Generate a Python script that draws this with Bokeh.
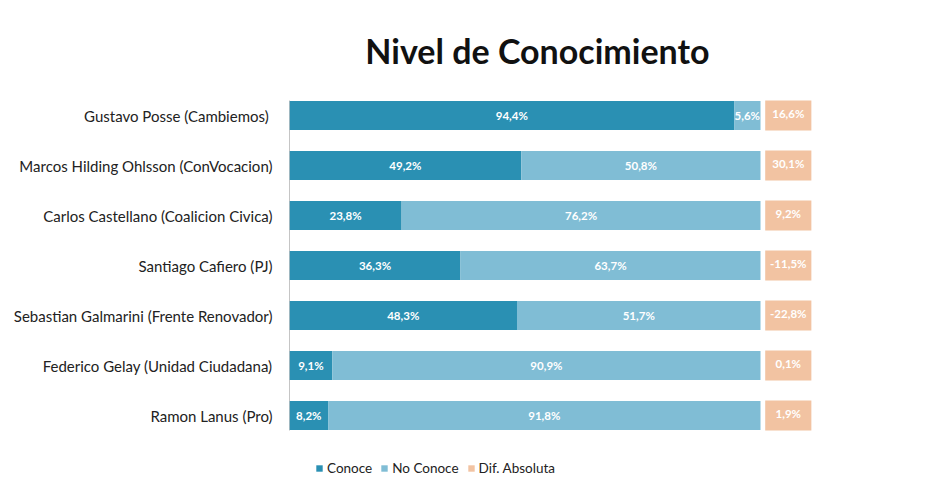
from bokeh.plotting import figure
from bokeh.models import ColumnDataSource, Range1d, Legend, LegendItem, FixedTicker
from bokeh.core.properties import value
from bokeh.embed import file_html
from bokeh.resources import INLINE

names = ["Gustavo Posse  (Cambiemos)", "Marcos Hilding Ohlsson (ConVocacion)",
         "Carlos Castellano (Coalicion Civica)", "Santiago Cafiero (PJ)",
         "Sebastian Galmarini (Frente Renovador)", "Federico Gelay (Unidad Ciudadana)",
         "Ramon Lanus (Pro)"]
conoce = [94.4, 49.2, 23.8, 36.3, 48.3, 9.1, 8.2]
no_conoce = [5.6, 50.8, 76.2, 63.7, 51.7, 90.9, 91.8]
dif_absoluta = [16.6, 30.1, 9.2, -11.5, -22.8, 0.1, 1.9]
series_names = ["Conoce", "No Conoce", "Dif. Absoluta"]
title_text = "Nivel de Conocimiento"

C_CON = "#2a90b3"
C_NO = "#80bdd5"
C_DIF = "#f2c3a2"
FONT = "Lato"

def fmt(v):
    return f"{v:.1f}".replace(".", ",") + "%"

DIF_START, DIF_END = 101.0, 110.8
idx = list(range(len(names)))

src = ColumnDataSource(dict(
    y=idx,
    con=conoce,
    total=[a + b for a, b in zip(conoce, no_conoce)],
    con_mid=[a / 2 for a in conoce],
    no_mid=[a + b / 2 for a, b in zip(conoce, no_conoce)],
    con_lbl=[fmt(v) for v in conoce],
    no_lbl=[fmt(v) for v in no_conoce],
    dif_lbl=[fmt(v) for v in dif_absoluta],
    dif_l=[DIF_START] * len(names),
    dif_r=[DIF_END] * len(names),
    dif_mid=[(DIF_START + DIF_END) / 2] * len(names),
))

p = figure(width=946, height=503, output_backend="svg", toolbar_location=None,
           x_range=Range1d(0, 139.49), y_range=Range1d(7.76, -2.3),
           min_border_left=289, min_border_right=0, min_border_top=0, min_border_bottom=0)
p.background_fill_color = "white"
p.border_fill_color = "white"
p.outline_line_color = None
p.grid.visible = False
p.xaxis.visible = False

ya = p.yaxis[0]
ya.ticker = FixedTicker(ticks=idx)
ya.major_label_overrides = {i: n for i, n in zip(idx, names)}
ya.axis_line_color = None
ya.major_tick_line_color = None
ya.minor_tick_line_color = None
ya.major_label_text_font = FONT
ya.major_label_text_font_size = "15px"
ya.major_label_text_color = "#222222"
ya.major_label_standoff = 11

p.segment(x0=0, y0=-0.3, x1=0, y1=len(names) - 0.7, line_color="#8c8c8c", line_width=1)

h = 0.58
r1 = p.hbar(y="y", left=0, right="con", height=h, source=src, fill_color=C_CON, line_color=None)
r2 = p.hbar(y="y", left="con", right="total", height=h, source=src, fill_color=C_NO, line_color=None)
r3 = p.hbar(y="y", left="dif_l", right="dif_r", height=0.6, source=src, fill_color=C_DIF, line_color=None)

common = dict(text_font=value(FONT), text_font_size="11.5px", text_font_style="bold",
              text_color="white", text_align="center", text_baseline="middle")
p.text(x="con_mid", y="y", text="con_lbl", source=src, **common)
p.text(x="no_mid", y="y", text="no_lbl", source=src, **common)
p.text(x="dif_mid", y="y", text="dif_lbl", source=src, y_offset=-2, **common)

p.text(x=[52.65], y=[-1.3], text=[title_text], text_font=value(FONT), text_font_size="34px",
       text_font_style="bold", text_color="#111111", text_align="center", text_baseline="middle")

legend = Legend(items=[LegendItem(label=series_names[0], renderers=[r1]),
                       LegendItem(label=series_names[1], renderers=[r2]),
                       LegendItem(label=series_names[2], renderers=[r3])],
                orientation="horizontal", location=(26, 27),
                glyph_width=8, glyph_height=8, spacing=8, label_standoff=4,
                label_text_font=FONT, label_text_font_size="13.5px", label_text_color="#222222",
                border_line_color=None, background_fill_alpha=0, padding=2, margin=0)
p.add_layout(legend)

open("out.html", "w").write(file_html(p, INLINE))
